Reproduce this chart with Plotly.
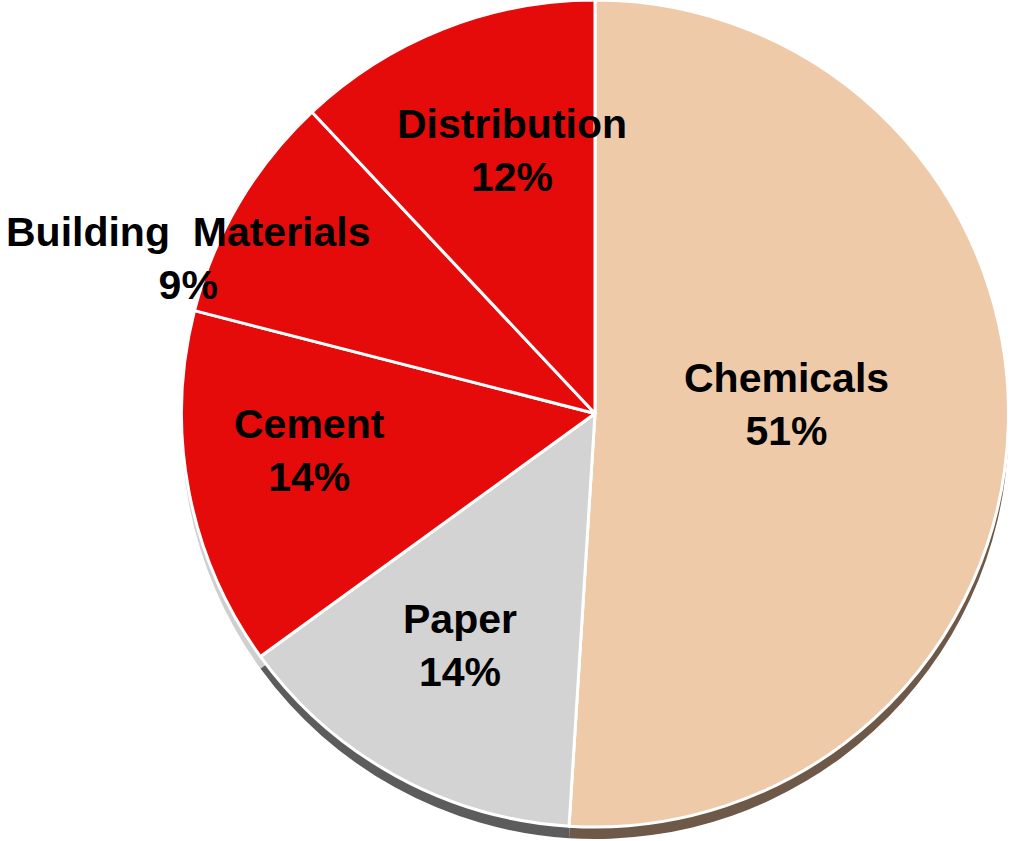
import plotly.graph_objects as go

# ---- data ----
sectors = ["Chemicals", "Paper", "Cement", "Building Materials", "Distribution"]
shares = [51, 14, 14, 9, 12]

# ---- styles ----
slice_colors = ["#EFCAA9", "#D3D3D3", "#E60B0B", "#E60B0B", "#E60B0B"]
rim_colors = ["#6E5848", "#5C5C5C", "#CFCFCF", "#CFCFCF", "#CFCFCF"]
label_text = ["Chemicals", "Paper", "Cement", "Building&nbsp; Materials", "Distribution"]
# label block centres in pixels (x from left, y from top)
label_pos = [(786, 404), (460, 645), (309, 450), (188, 258), (512, 150)]

W, H = 1020, 841
cx, cy_top = 595, 413.5
r = 413.5
xdom = [(cx - r) / W, (cx + r) / W]
ydom = [(H - cy_top - r) / H, (H - cy_top + r) / H]
ydom[1] = min(ydom[1], 1.0)
shift = 12 / H
ydom_shadow = [ydom[0] - shift, ydom[1] - shift]

fig = go.Figure()
# depth rim (same data, drawn behind and offset down)
fig.add_trace(go.Pie(
    labels=sectors, values=shares, sort=False, direction="clockwise", rotation=0,
    marker=dict(colors=rim_colors, line=dict(color="rgba(0,0,0,0)", width=0)),
    textinfo="none", hoverinfo="skip", showlegend=False,
    domain=dict(x=xdom, y=ydom_shadow),
))
fig.add_trace(go.Pie(
    labels=sectors, values=shares, sort=False, direction="clockwise", rotation=0,
    marker=dict(colors=slice_colors, line=dict(color="white", width=3)),
    textinfo="none", showlegend=False,
    domain=dict(x=xdom, y=ydom),
))

for name, val, (px, py) in zip(label_text, shares, label_pos):
    fig.add_annotation(
        x=px / W, y=1 - py / H, xref="paper", yref="paper",
        text=f"<b>{name}<br>{val}%</b>", showarrow=False,
        xanchor="center", yanchor="middle", align="center",
        font=dict(family="Liberation Sans, Arial, sans-serif", size=41, color="black"),
    )

fig.update_layout(
    width=W, height=H, margin=dict(l=0, r=0, t=0, b=0),
    paper_bgcolor="white", plot_bgcolor="white", showlegend=False,
)
fig.write_html("out.html")
